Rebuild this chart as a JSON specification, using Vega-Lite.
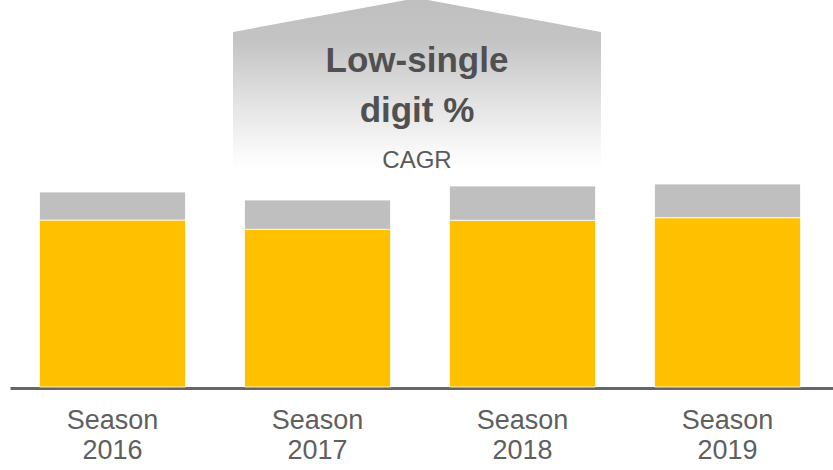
{
  "$schema": "https://vega.github.io/schema/vega-lite/v6.json",
  "width": 823,
  "height": 387,
  "autosize": "none",
  "padding": {"left": 10, "top": 0, "right": 0, "bottom": 83},
  "background": "#ffffff",
  "config": {"view": {"stroke": null}},
  "layer": [
    {
      "data": {
        "values": [
          {"season": "Season 2016", "segment": "base", "value": 167.0},
          {"season": "Season 2016", "segment": "top", "value": 28.0},
          {"season": "Season 2017", "segment": "base", "value": 157.7},
          {"season": "Season 2017", "segment": "top", "value": 29.3},
          {"season": "Season 2018", "segment": "base", "value": 166.7},
          {"season": "Season 2018", "segment": "top", "value": 34.3},
          {"season": "Season 2019", "segment": "base", "value": 169.3},
          {"season": "Season 2019", "segment": "top", "value": 33.7}
        ]
      },
      "mark": {"type": "bar", "stroke": "#ffffff", "strokeWidth": 0.8},
      "encoding": {
        "x": {
          "field": "season",
          "type": "nominal",
          "sort": null,
          "scale": {"paddingInner": 0.2878, "paddingOuter": 0.151, "align": 0.476},
          "axis": {
            "title": null,
            "ticks": false,
            "labelAngle": 0,
            "labelExpr": "split(datum.value, ' ')",
            "labelFont": "Liberation Sans",
            "labelFontSize": 27,
            "labelLineHeight": 30,
            "labelColor": "#5f5f5f",
            "labelPadding": 19,
            "domainColor": "#666666",
            "domainWidth": 3,
            "offset": 1
          }
        },
        "y": {
          "field": "value",
          "type": "quantitative",
          "stack": "zero",
          "scale": {"domain": [0, 387], "nice": false},
          "axis": null
        },
        "color": {
          "field": "segment",
          "type": "nominal",
          "scale": {"domain": ["base", "top"], "range": ["#FFC000", "#BFBFBF"]},
          "legend": null
        },
        "order": {"field": "segment", "sort": "ascending"}
      }
    },
    {
      "layer": [
        {
          "data": {
            "values": [
              {"px": 223, "top": 355, "bottom": 217},
              {"px": 407, "top": 389, "bottom": 217},
              {"px": 591, "top": 355, "bottom": 217}
            ]
          },
          "mark": {
            "type": "area",
            "color": {
              "gradient": "linear",
              "x1": 0, "y1": 0, "x2": 0, "y2": 1,
              "stops": [
                {"offset": 0, "color": "#bfbfbf"},
                {"offset": 0.25, "color": "#c4c4c4"},
                {"offset": 0.6, "color": "#e2e2e2"},
                {"offset": 0.92, "color": "#fbfbfb"},
                {"offset": 1, "color": "#ffffff"}
              ]
            }
          },
          "encoding": {
            "x": {"field": "px", "type": "quantitative", "scale": {"domain": [0, 823], "nice": false, "zero": false}, "axis": null},
            "y": {"field": "top", "type": "quantitative"},
            "y2": {"field": "bottom"}
          }
        },
        {
          "data": {
            "values": [
              {"px": 407, "ty": 315.3, "txt": "Low-single"},
              {"px": 407, "ty": 265, "txt": "digit %"}
            ]
          },
          "mark": {"type": "text", "font": "Liberation Sans", "fontWeight": "bold", "fontSize": 35, "color": "#505050", "baseline": "alphabetic", "align": "center"},
          "encoding": {
            "x": {"field": "px", "type": "quantitative"},
            "y": {"field": "ty", "type": "quantitative"},
            "text": {"field": "txt"}
          }
        },
        {
          "data": {
            "values": [
              {"px": 407, "ty": 219, "txt": "CAGR"}
            ]
          },
          "mark": {"type": "text", "font": "Liberation Sans", "fontSize": 24, "color": "#595959", "baseline": "alphabetic", "align": "center"},
          "encoding": {
            "x": {"field": "px", "type": "quantitative"},
            "y": {"field": "ty", "type": "quantitative"},
            "text": {"field": "txt"}
          }
        }
      ]
    }
  ],
  "resolve": {"scale": {"x": "independent"}, "axis": {"x": "independent"}}
}
